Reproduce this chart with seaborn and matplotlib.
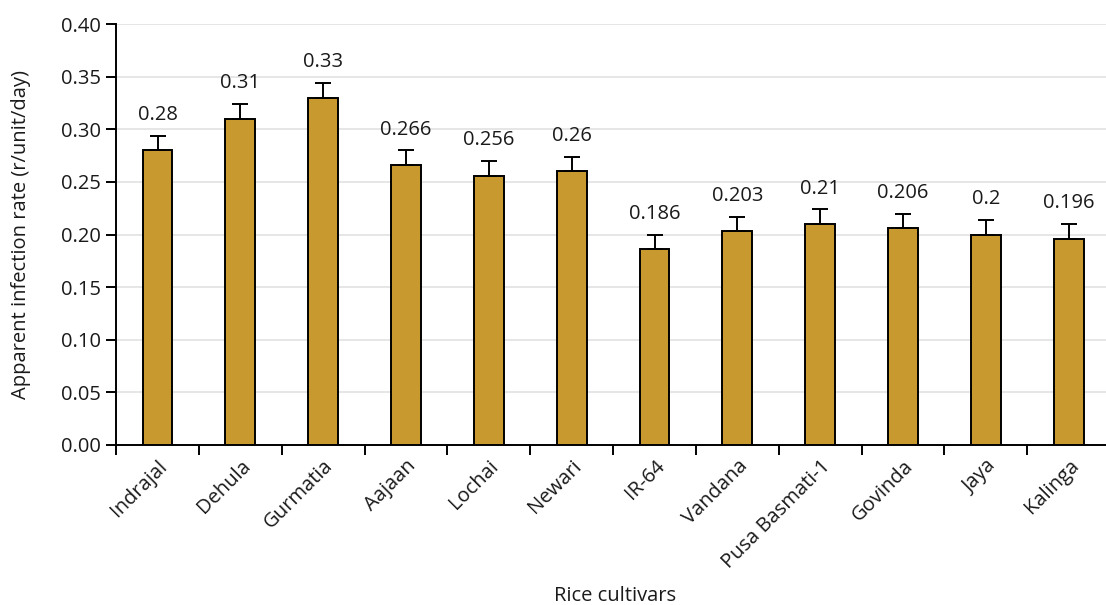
import numpy as np
import pandas as pd
import seaborn as sns
import matplotlib.pyplot as plt

# data
cultivars = ["Indrajal", "Dehula", "Gurmatia", "Aajaan", "Lochai", "Newari",
             "IR-64", "Vandana", "Pusa Basmati-1", "Govinda", "Jaya", "Kalinga"]
rates = [0.28, 0.31, 0.33, 0.266, 0.256, 0.26, 0.186, 0.203, 0.21, 0.206, 0.2, 0.196]
rate_labels = ["0.28", "0.31", "0.33", "0.266", "0.256", "0.26",
               "0.186", "0.203", "0.21", "0.206", "0.2", "0.196"]
errors = [0.014] * len(cultivars)

df = pd.DataFrame({"Cultivar": cultivars, "Rate": rates})

sns.set_style("white")
plt.rcParams['font.family'] = ['Open Sans', 'DejaVu Sans']
plt.rcParams['text.color'] = '#1a1a1a'
plt.rcParams['axes.labelcolor'] = '#1a1a1a'
plt.rcParams['xtick.labelcolor'] = '#1a1a1a'
plt.rcParams['ytick.labelcolor'] = '#1a1a1a'

fs = 14.5

fig = plt.figure(figsize=(11.06, 6.05), dpi=100)
ax = fig.add_axes([0.105, 0.2645, 0.895, 0.6955])

sns.barplot(data=df, x="Cultivar", y="Rate", color="#C8992E", saturation=1,
            width=0.36, edgecolor="black", linewidth=1.4, errorbar=None, ax=ax, zorder=3)

x = np.arange(len(cultivars))
ax.errorbar(x, rates, yerr=[np.zeros(len(errors)), errors], fmt="none",
            ecolor="black", elinewidth=1.4, capsize=6, capthick=1.4, zorder=4)

for xi, r, e, lab in zip(x, rates, errors, rate_labels):
    ax.text(xi, r + e + 0.015, lab, ha="center", va="baseline", fontsize=fs)

ax.set_ylim(0, 0.40)
ax.set_yticks(np.arange(0, 0.401, 0.05))
ax.set_yticklabels([f"{v:.2f}" for v in np.arange(0, 0.401, 0.05)], fontsize=fs)
ax.set_xlim(-0.5, 11.45)

# ticks at category boundaries, labels at centers
ax.set_xticks(np.arange(-0.5, 11.0, 1.0))
ax.set_xticklabels([])
ax.set_xticks(x, minor=True)
ax.set_xticklabels(cultivars, minor=True, rotation=45, ha="right",
                   rotation_mode="anchor", fontsize=fs)
ax.tick_params(axis="x", which="minor", length=0, pad=8)
ax.tick_params(axis="x", which="major", length=7, width=1.4, color="black", direction="out")
ax.tick_params(axis="y", length=7, width=1.4, color="black", direction="out", pad=4)
ax.tick_params(bottom=True, left=True)

ax.yaxis.grid(True, color="#E6E6E6", linewidth=1.4, zorder=0)
ax.set_axisbelow(True)

for s in ["top", "right"]:
    ax.spines[s].set_visible(False)
for s in ["left", "bottom"]:
    ax.spines[s].set_color("black")
    ax.spines[s].set_linewidth(1.4)

ax.set_xlabel("Rice cultivars", fontsize=fs)
ax.xaxis.set_label_coords(0.504, -0.335)
ax.set_ylabel("Apparent infection rate (r/unit/day)", fontsize=fs)
ax.yaxis.set_label_coords(-0.086, 0.5)

fig.savefig("out.png", dpi=100)
